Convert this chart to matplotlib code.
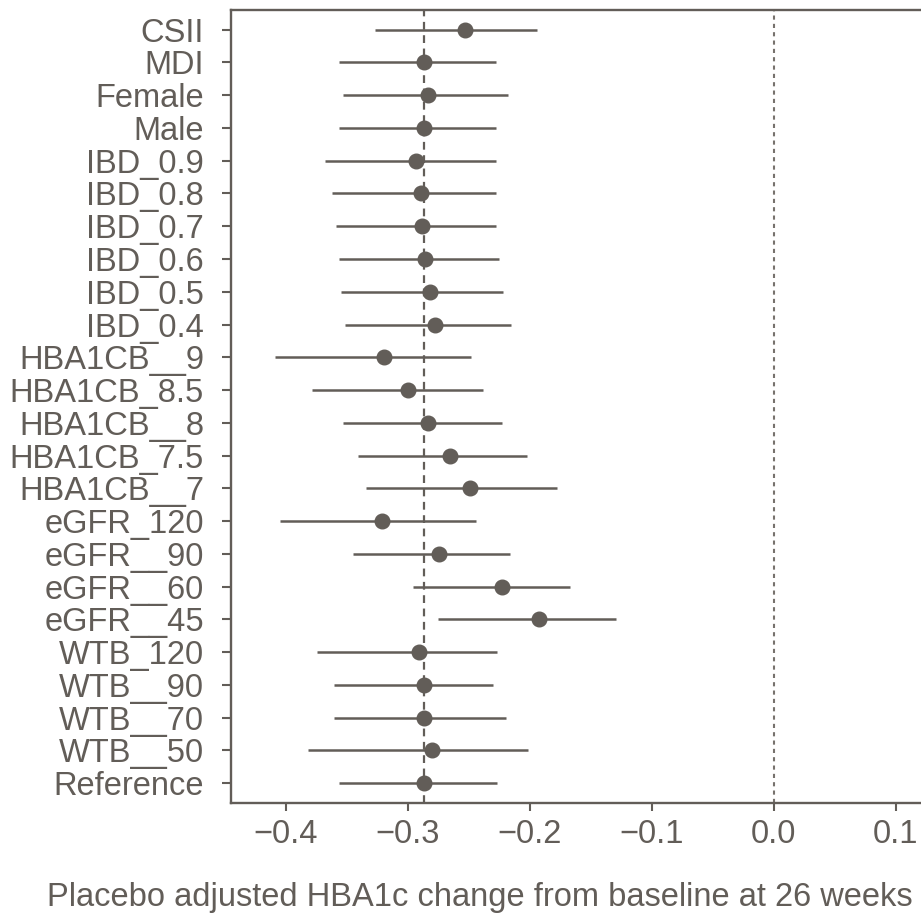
import matplotlib
matplotlib.use("Agg")
import matplotlib.pyplot as plt
import numpy as np

# rows from top to bottom
LABELS = ["CSII", "MDI", "Female", "Male",
          "IBD_0.9", "IBD_0.8", "IBD_0.7", "IBD_0.6", "IBD_0.5", "IBD_0.4",
          "HBA1CB__9", "HBA1CB_8.5", "HBA1CB__8", "HBA1CB_7.5", "HBA1CB__7",
          "eGFR_120", "eGFR__90", "eGFR__60", "eGFR__45",
          "WTB_120", "WTB__90", "WTB__70", "WTB__50", "Reference"]
ESTIMATE = [-0.253, -0.287, -0.283, -0.287,
            -0.293, -0.289, -0.288, -0.286, -0.282, -0.278,
            -0.319, -0.300, -0.283, -0.265, -0.249,
            -0.321, -0.274, -0.223, -0.192,
            -0.291, -0.287, -0.287, -0.280, -0.287]
LOWER = [-0.327, -0.356, -0.353, -0.356,
         -0.368, -0.362, -0.359, -0.356, -0.355, -0.351,
         -0.409, -0.378, -0.353, -0.341, -0.334,
         -0.405, -0.345, -0.296, -0.275,
         -0.374, -0.360, -0.360, -0.382, -0.356]
UPPER = [-0.194, -0.228, -0.218, -0.228,
         -0.228, -0.228, -0.228, -0.225, -0.222, -0.215,
         -0.248, -0.238, -0.223, -0.202, -0.178,
         -0.244, -0.216, -0.167, -0.129,
         -0.227, -0.230, -0.219, -0.201, -0.227]
REFERENCE_LABEL = "Reference"

INK = "#625d58"

plt.rcParams.update({
    "font.family": ["Liberation Sans", "DejaVu Sans"],
    "font.size": 23.5,
    "text.color": INK,
    "axes.edgecolor": INK,
    "axes.linewidth": 1.7,
    "xtick.color": INK,
    "ytick.color": INK,
    "xtick.labelcolor": INK,
    "ytick.labelcolor": INK,
})

fig = plt.figure(figsize=(9.21, 9.15), dpi=100)
ax = fig.add_axes([0.2508, 0.1227, 0.7615, 0.8663])

n = len(LABELS)
y = np.arange(n)[::-1]
est = np.array(ESTIMATE)
lo = np.array(LOWER)
hi = np.array(UPPER)

ax.hlines(y, lo, hi, color=INK, linewidth=1.8, zorder=2)
ax.plot(est, y, "o", color=INK, markersize=10.5, zorder=3)

ref_val = ESTIMATE[LABELS.index(REFERENCE_LABEL)]
ax.axvline(ref_val, color=INK, linewidth=1.6, linestyle=(0, (3.5, 2.5)), zorder=1)
ax.axvline(0.0, color="#77726d", linewidth=1.5, linestyle=(0, (2, 2)), zorder=1)

ax.set_xlim(-0.4448, 0.13)
ax.set_ylim(-0.6, n - 0.4)
ax.set_yticks(y)
ax.set_yticklabels(LABELS)
ax.set_xticks([-0.4, -0.3, -0.2, -0.1, 0.0, 0.1])
ax.set_xticklabels(["\u22120.4", "\u22120.3", "\u22120.2", "\u22120.1", "0.0", "0.1"])
ax.tick_params(axis="y", length=6.5, width=1.5, pad=13)
ax.tick_params(axis="x", length=6, width=1.5, pad=6)

fig.text(480 / 921, 9 / 915, "Placebo adjusted HBA1c change from baseline at 26 weeks",
         ha="center", va="baseline", fontsize=23.5, color=INK)

fig.savefig("out.png", dpi=100)
